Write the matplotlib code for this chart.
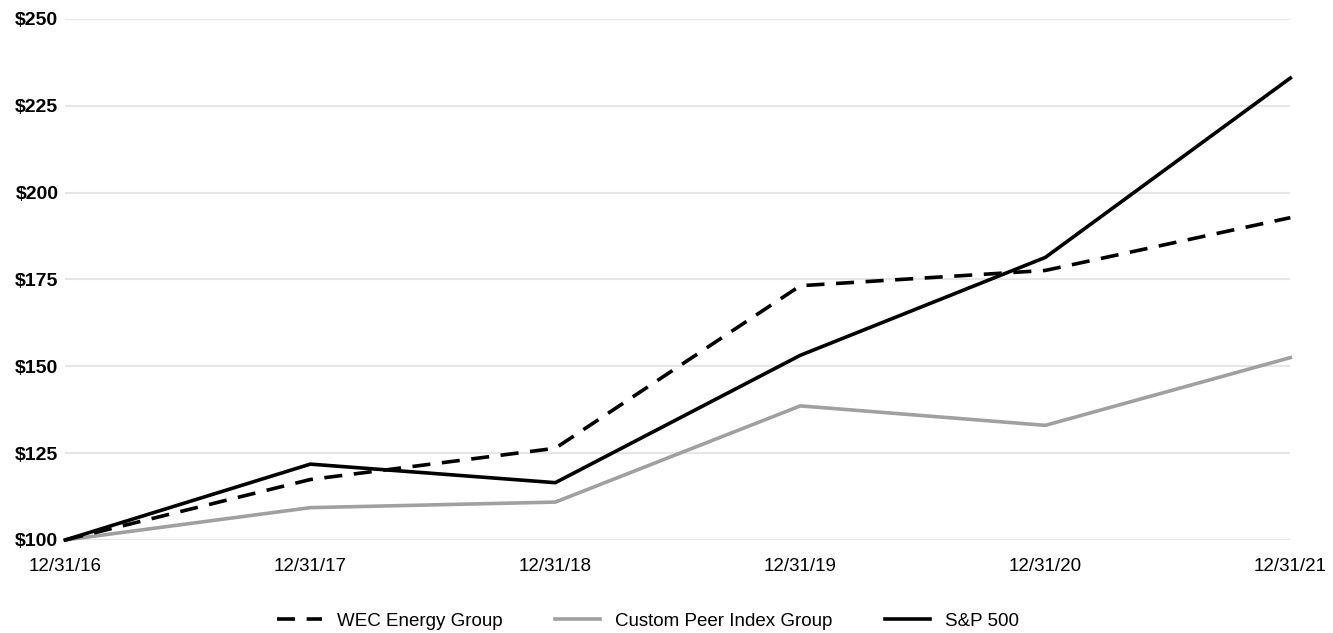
import matplotlib
matplotlib.use("Agg")
import matplotlib.pyplot as plt

dates = ["12/31/16", "12/31/17", "12/31/18", "12/31/19", "12/31/20", "12/31/21"]
wec = [100, 117.4, 126.4, 173.2, 177.6, 192.8]
peer = [100, 109.3, 110.9, 138.6, 133.0, 152.5]
sp500 = [100, 121.83, 116.49, 153.17, 181.35, 233.0]
yticks = [100, 125, 150, 175, 200, 225, 250]
ytick_labels = ["$100", "$125", "$150", "$175", "$200", "$225", "$250"]

plt.rcParams['font.family'] = ['Liberation Sans', 'DejaVu Sans']

fig = plt.figure(figsize=(13.33, 6.33), dpi=100)
ax = fig.add_axes([0.049, 0.147, 0.919, 0.823])

x = list(range(len(dates)))
ax.plot(x, wec, color="black", lw=2.6, ls=(0, (5, 3.2)), label="WEC Energy Group", clip_on=False, zorder=3)
ax.plot(x, peer, color="#a0a0a0", lw=2.6, label="Custom Peer Index Group", clip_on=False, zorder=2)
ax.plot(x, sp500, color="black", lw=2.6, label="S&P 500", clip_on=False, zorder=4)

ax.set_xlim(0, len(dates) - 1)
ax.set_ylim(100, 250)
ax.set_yticks(yticks)
ax.set_yticklabels(ytick_labels, fontweight="bold", fontsize=14)
ax.set_xticks(x)
ax.set_xticklabels(dates, fontsize=13.5)
ax.tick_params(axis="both", length=0)
ax.tick_params(axis="y", pad=5)
ax.tick_params(axis="x", pad=13)
ax.grid(axis="y", color="#e6e6e6", lw=1.5)
ax.set_axisbelow(True)
for s in ax.spines.values():
    s.set_visible(False)

fig.legend(loc="center", bbox_to_anchor=(0.486, 0.019), ncol=3, frameon=False,
           fontsize=13.5, handlelength=2.4, columnspacing=2.8, handletextpad=0.8)

fig.savefig("out.png", dpi=100)
